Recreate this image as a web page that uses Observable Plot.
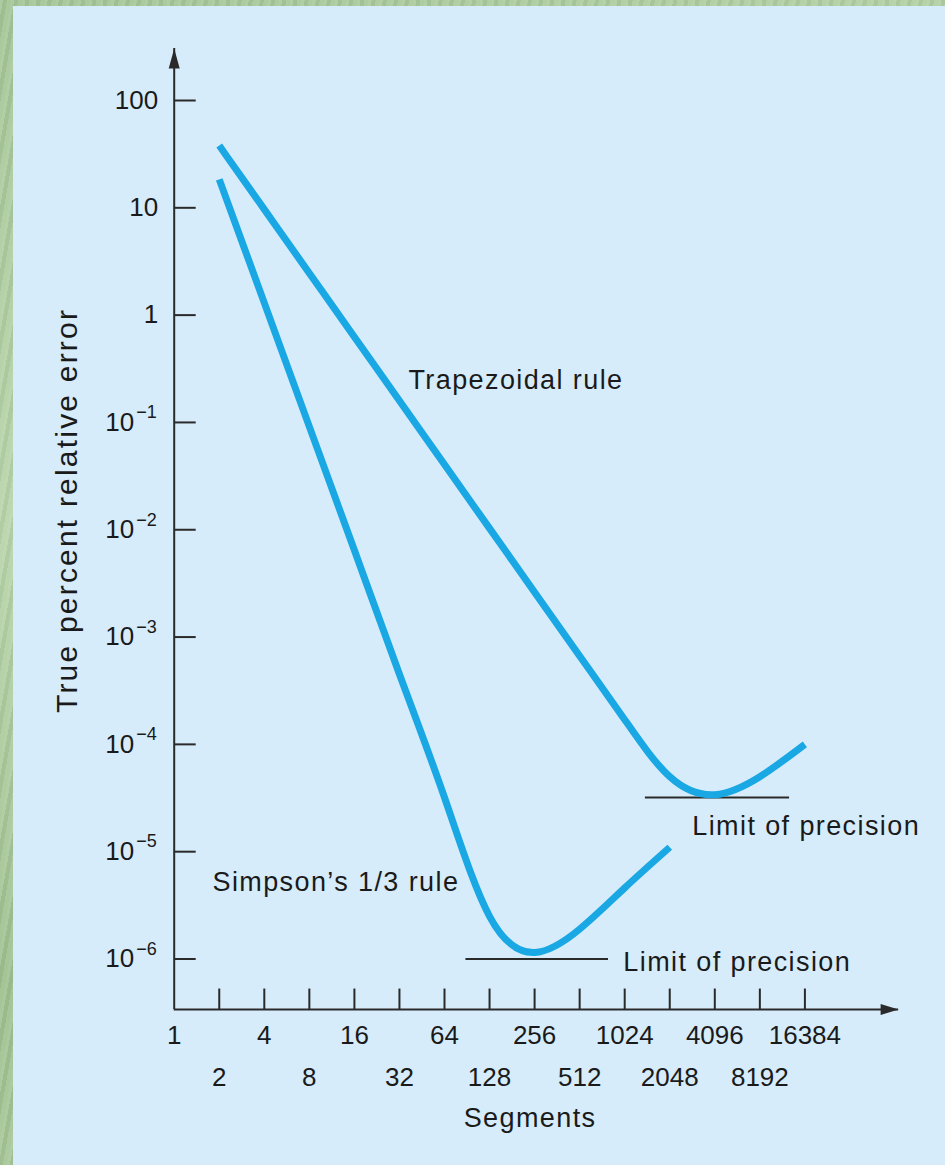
<!DOCTYPE html>
<html>
<head>
<meta charset="utf-8">
<script src="https://cdn.jsdelivr.net/npm/d3@7"></script>
<script src="https://cdn.jsdelivr.net/npm/@observablehq/plot@0.6"></script>
<style>
  html, body { margin: 0; padding: 0; }
  body {
    width: 945px; height: 1165px; overflow: hidden; position: relative;
    background:
      repeating-linear-gradient(100deg, rgba(255,255,255,0.10) 0 3px, rgba(0,0,0,0.04) 3px 7px, rgba(255,255,255,0.06) 7px 11px),
      linear-gradient(160deg, #a4c596, #b9d5ab 35%, #9fc190 65%, #b5d2a6);
  }
  #panel {
    position: absolute; left: 13px; top: 6px; width: 932px; height: 1159px;
    background: #d6ecfa;
  }
  #panel svg { display: block; }
</style>
</head>
<body>
<div id="panel"></div>
<script>
// ---- data ----
const segments = [2, 4, 8, 16, 32, 64, 128, 256, 512, 1024, 2048, 4096, 8192, 16384];
const trapezoidal = [38, 9.67, 2.46, 0.626, 0.159, 0.0405, 0.0103, 0.00262, 0.000667, 0.00017, 5.0e-5, 3.4e-5, 5.0e-5, 1.0e-4];
const simpsonSegments = [2, 4, 8, 16, 32, 64, 128, 256, 512, 1024, 2048];
const simpson = [18.4, 1.30, 0.0914, 0.00644, 4.5e-4, 3.2e-5, 2.5e-6, 1.15e-6, 1.9e-6, 4.6e-6, 1.1e-5];

const limitLines = [
  {from: 89, to: 798, value: 1.0e-6},
  {from: 1408, to: 12940, value: 3.2e-5}
];

// tick values and labels
const xTicks = [2, 4, 8, 16, 32, 64, 128, 256, 512, 1024, 2048, 4096, 8192, 16384];
const xLabelsRow1 = [1, 4, 16, 64, 256, 1024, 4096, 16384];
const xLabelsRow2 = [2, 8, 32, 128, 512, 2048, 8192];
const yTicks = [100, 10, 1, 1e-1, 1e-2, 1e-3, 1e-4, 1e-5, 1e-6];
const yPlainLabels = [100, 10, 1];
const yPlainText = ["100", "10", "1"];
const yExpLabels = [1e-1, 1e-2, 1e-3, 1e-4, 1e-5, 1e-6];
const yExpText = ["\u22121", "\u22122", "\u22123", "\u22124", "\u22125", "\u22126"];

// axis extents
const xMin = 1, xMax = 2 ** 16.08;
const yMin = 10 ** -6.471, yMax = 10 ** 2.485;

// annotations
const notes = [
  {text: "Trapezoidal rule", n: 2 ** 5.2, v: 10 ** -0.609},
  {text: "Simpson\u2019s 1/3 rule", n: 2 ** 0.85, v: 10 ** -5.288},
  {text: "Limit of precision", n: 2 ** 11.5, v: 10 ** -4.766},
  {text: "Limit of precision", n: 2 ** 9.97, v: 10 ** -6.033}
];
const xTitle = "Segments";
const yTitle = "True percent relative error";

const blue = "#1aa8e4";
const ink = "#2a2a2a";
const textInk = "#1a1a1a";

const lineShape = {draw(ctx, l) { ctx.moveTo(0, 0); ctx.lineTo(0, -l); }};
const headShape = {draw(ctx, l) { ctx.moveTo(0, -l); ctx.lineTo(-5.5, 0); ctx.lineTo(5.5, 0); ctx.closePath(); }};

const trapData = segments.map((n, i) => ({n, v: trapezoidal[i]}));
const simpData = simpsonSegments.map((n, i) => ({n, v: simpson[i]}));

const chart = Plot.plot({
  width: 932,
  height: 1159,
  margin: 0,
  style: {background: "transparent", fontFamily: "'Liberation Sans', Arial, sans-serif", color: ink, overflow: "visible"},
  x: {type: "log", base: 2, domain: [1, 65536], range: [160.7, 160.7 + 16 * 45.05], axis: null},
  y: {type: "log", domain: [1e-6, 100], range: [952.5, 94], axis: null},
  marks: [
    // axes lines
    Plot.ruleX([xMin], {y1: yMin, y2: yMax, stroke: ink, strokeWidth: 2}),
    Plot.ruleY([yMin], {x1: xMin, x2: xMax, stroke: ink, strokeWidth: 2}),
    Plot.vector([0], {x: () => xMin, y: () => yMax, length: 20, rotate: 0, anchor: "end", shape: headShape, fill: ink, stroke: "none"}),
    Plot.vector([0], {x: () => xMax, y: () => yMin, length: 18, rotate: 90, anchor: "end", shape: headShape, fill: ink, stroke: "none"}),
    // ticks
    Plot.vector(yTicks, {x: () => xMin, y: d => d, length: 21.5, rotate: 90, anchor: "start", shape: lineShape, stroke: ink, strokeWidth: 2, strokeLinecap: "butt"}),
    Plot.vector(xTicks, {x: d => d, y: () => yMin, length: 21, rotate: 0, anchor: "start", shape: lineShape, stroke: ink, strokeWidth: 2, strokeLinecap: "butt"}),
    // tick labels
    Plot.text(yPlainLabels, {x: () => xMin, y: d => d, text: (d, i) => yPlainText[i], textAnchor: "end", dx: -16, fontSize: 26, fill: textInk}),
    Plot.text(yExpLabels, {x: () => xMin, y: d => d, text: () => "10", textAnchor: "end", dx: -40, fontSize: 26, fill: textInk}),
    Plot.text(yExpLabels, {x: () => xMin, y: d => d, text: (d, i) => yExpText[i], textAnchor: "start", dx: -38, dy: -10, fontSize: 18, fill: textInk}),
    Plot.text(xLabelsRow1, {x: d => d, y: () => yMin, text: d => String(d), dy: 26, fontSize: 26, fill: textInk}),
    Plot.text(xLabelsRow2, {x: d => d, y: () => yMin, text: d => String(d), dy: 68, fontSize: 26, fill: textInk}),
    // axis titles
    Plot.text([xTitle], {x: () => 2 ** 7.9, y: () => yMin, dy: 109, fontSize: 27, fill: textInk}),
    Plot.text([yTitle], {x: () => xMin, y: () => 10 ** -1.82, dx: -107, rotate: -90, fontSize: 30, fill: textInk}),
    // limit of precision lines
    Plot.ruleY(limitLines, {y: "value", x1: "from", x2: "to", stroke: ink, strokeWidth: 2}),
    // curves
    Plot.line(trapData, {x: "n", y: "v", stroke: blue, strokeWidth: 7, curve: "natural", strokeLinecap: "butt"}),
    Plot.line(simpData, {x: "n", y: "v", stroke: blue, strokeWidth: 7, curve: "natural", strokeLinecap: "butt"}),
    // annotations
    Plot.text(notes, {x: "n", y: "v", text: "text", textAnchor: "start", fontSize: 27, fill: textInk})
  ]
});
const spacing = new Map([[yTitle, "2.2px"], [xTitle, "1.4px"]]);
for (const nt of notes) spacing.set(nt.text, "1.4px");
d3.select(chart).selectAll("text").each(function() {
  const ls = spacing.get(this.textContent);
  if (ls) this.style.letterSpacing = ls;
});
document.getElementById("panel").appendChild(chart);
</script>
</body>
</html>
